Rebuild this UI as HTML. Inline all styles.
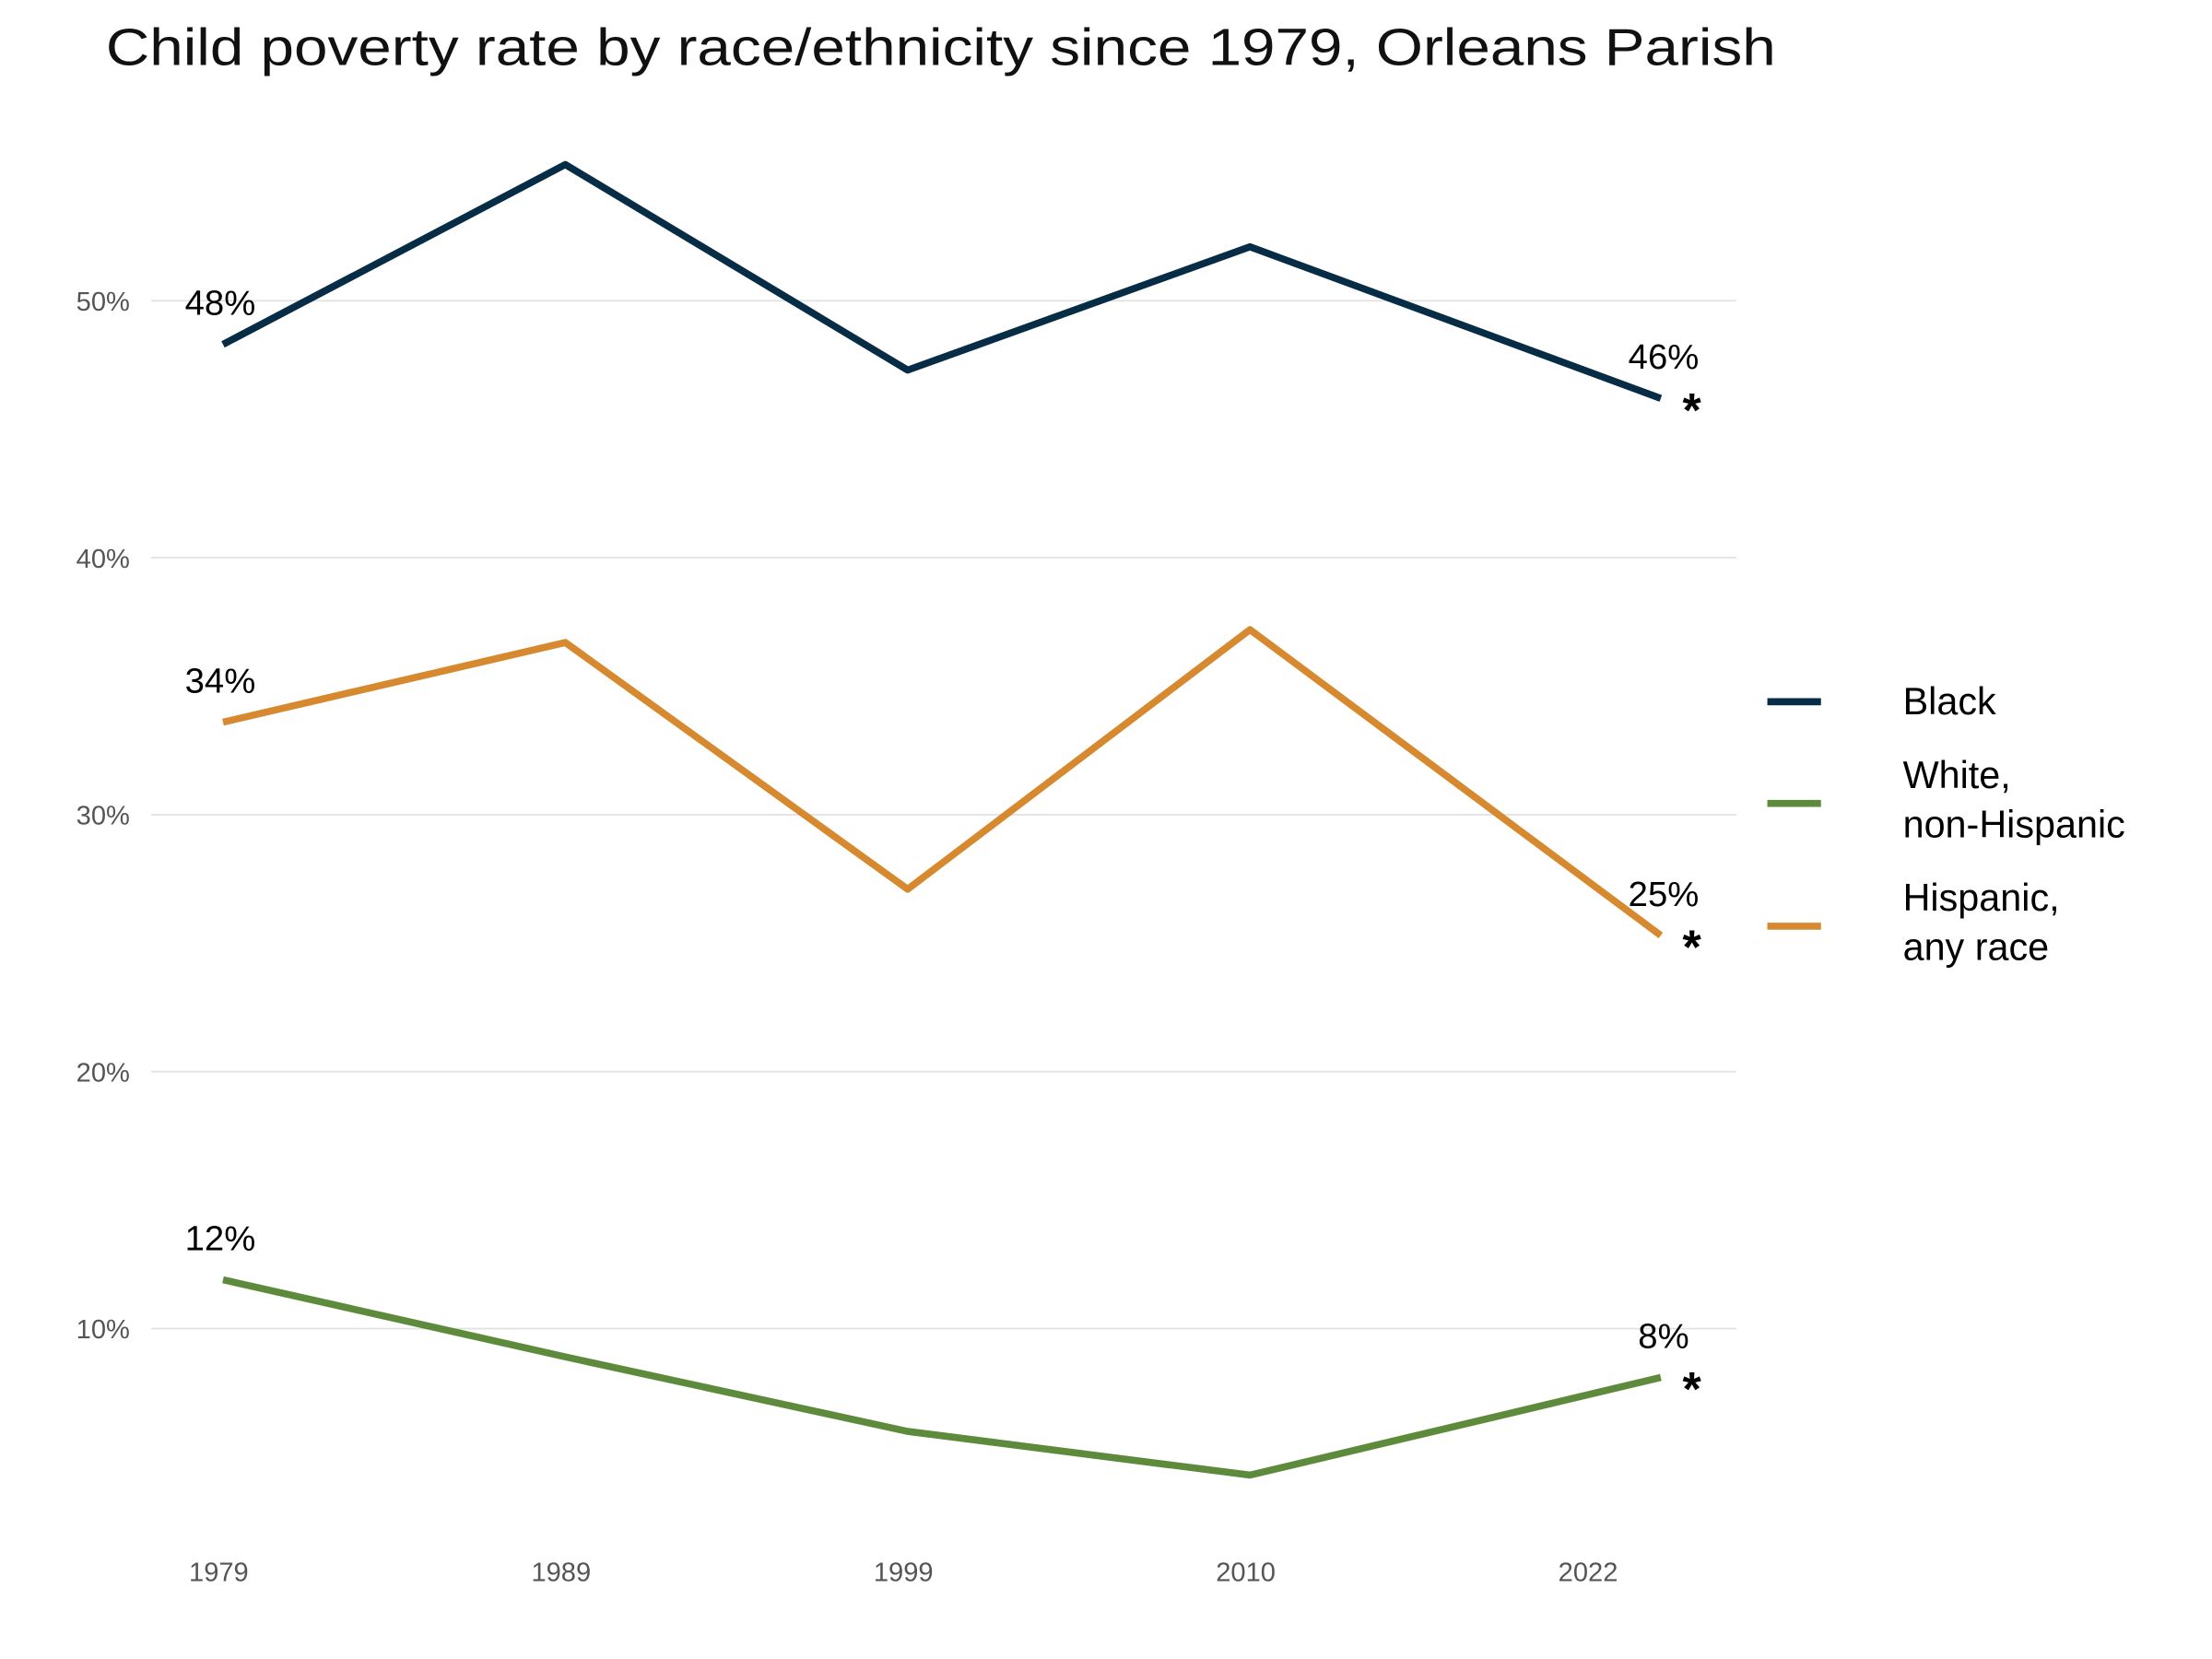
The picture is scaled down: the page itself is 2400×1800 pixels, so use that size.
<!DOCTYPE html>
<html><head><meta charset="utf-8"><style>
html,body{margin:0;padding:0;background:#fff;}
svg{display:block;font-family:"Liberation Sans",sans-serif;}
</style></head><body>
<svg id="chart" width="2400" height="1800" viewBox="0 0 1567 1175" preserveAspectRatio="none" xmlns="http://www.w3.org/2000/svg">
<text x="75" y="46" font-size="37" fill="#111" textLength="1183" lengthAdjust="spacingAndGlyphs">Child poverty rate by race/ethnicity since 1979, Orleans Parish</text>
<g id="grid"></g><g id="lines"></g><g id="labels"></g>
<g>
<g><line x1="1252" y1="497" x2="1290" y2="497" stroke="#062d45" stroke-width="5"/><text x="1348" y="506" font-size="27">Black</text></g>
<g><line x1="1252" y1="569" x2="1290" y2="569" stroke="#5e8a3c" stroke-width="5"/><text x="1348" y="558" font-size="27">White,</text><text x="1348" y="593" font-size="27">non-Hispanic</text></g>
<g><line x1="1252" y1="656" x2="1290" y2="656" stroke="#d6892e" stroke-width="5"/><text x="1348" y="645" font-size="27">Hispanic,</text><text x="1348" y="680" font-size="27">any race</text></g>
</g>
</svg>
<script>
const years=[1979,1989,1999,2009,2021];
const tickYears=[1979,1989,1999,2009,2019];
const tickLabels=["1979","1989","1999","2010","2022"];
const yTicks=[10,20,30,40,50];
const black=[48.3,55.3,47.3,52.1,46.2];
const white=[11.9,8.9,6.0,4.3,8.1];
const hispanic=[33.6,36.7,27.1,37.2,25.3];
const X=y=>158+(y-1979)*24.25;
const Y=v=>941-(v-10)*18.2;
const NS="http://www.w3.org/2000/svg";
function mk(t,a,p){const e=document.createElementNS(NS,t);for(const k in a)e.setAttribute(k,a[k]);p.appendChild(e);return e;}
const grid=document.getElementById('grid'),lines=document.getElementById('lines'),labels=document.getElementById('labels');
yTicks.forEach(v=>{
 const l=mk('line',{x1:107,x2:1230,y1:Y(v),y2:Y(v),stroke:'#e3e3e3','stroke-width':1.2},grid);
 
 
 const t=mk('text',{x:92,y:Y(v)+7,'font-size':19,fill:'#555','text-anchor':'end'},grid);
 t.textContent=v+'%';
 
 
});
tickYears.forEach((y,i)=>{
 const t=mk('text',{x:X(y)-3,y:1120,'font-size':19,fill:'#555','text-anchor':'middle'},grid);
 t.textContent=tickLabels[i];
 
 
});
[[black,'#062d45','black'],[white,'#5e8a3c','white'],[hispanic,'#d6892e','hispanic']].forEach(([d,c,n])=>{
 const p=mk('polyline',{points:d.map((v,i)=>X(years[i])+','+Y(v)).join(' '),fill:'none',stroke:c,'stroke-width':5,'stroke-linejoin':'round'},lines);
 
 
 const a=mk('text',{x:X(years[0])-2,y:Y(d[0])-21,'font-size':25,'text-anchor':'middle'},labels);
 a.textContent=Math.round(d[0])+'%';
 
 
 const last=d[d.length-1];
 const b=mk('text',{x:X(years[4])+2,y:Y(last)-21,'font-size':25,'text-anchor':'middle'},labels);
 b.textContent=Math.round(last)+'%';
 
 
 const s=mk('text',{x:X(years[4])+22,y:Y(last)+20,'font-size':34,'font-weight':'bold','text-anchor':'middle'},labels);
 s.textContent='*';
 
 
});
</script>
</body></html>
